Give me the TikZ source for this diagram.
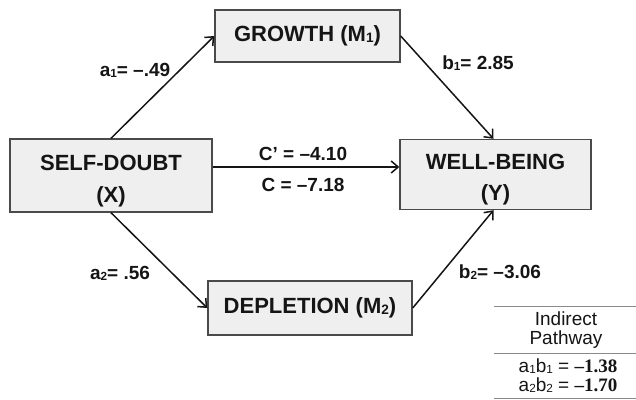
\documentclass[tikz,border=0pt]{standalone}
\usepackage{fontspec}
\setmainfont{Liberation Sans}
\newfontfamily\tnr{Liberation Serif}
\usetikzlibrary{arrows.meta,calc}
\definecolor{boxfill}{HTML}{EFEFEF}
\definecolor{boxline}{HTML}{4A4A4A}
\definecolor{ink}{HTML}{151515}
\definecolor{rule}{HTML}{8A8A8A}
\newcommand\lsub[1]{\raisebox{-0.05em}{\scalebox{0.62}{#1}}}
\tikzset{
  varbox/.style={draw=boxline, line width=1.4pt, fill=boxfill, text=ink,
    font=\fontsize{22}{25}\selectfont\bfseries, align=center, inner sep=0pt},
  arr/.style={draw=ink, line width=1.5pt, -{Straight Barb[length=7pt,width=12pt,line width=1.5pt]}},
  coef/.style={text=ink, font=\fontsize{19}{22}\selectfont\bfseries, inner sep=0pt},
  tabtxt/.style={text=ink, font=\fontsize{19}{22}\selectfont, inner sep=0pt},
  tabrule/.style={draw=rule, line width=0.9pt}
}
\begin{document}
\begin{tikzpicture}[x=1pt,y=-1pt]
\useasboundingbox (0,0) rectangle (636,399);
% boxes
\node[varbox, minimum width=185pt, minimum height=52pt] (gr) at (307.5,36) {GROWTH (M\lsub{1})};
\node[varbox, minimum width=202pt, minimum height=73pt] (sd) at (111,175.5) {\rule{0pt}{26pt}SELF-DOUBT\\[7pt](X)};
\node[varbox, minimum width=191pt, minimum height=70pt] (wb) at (495.5,174.5) {\rule{0pt}{26pt}WELL-BEING\\[6pt](Y)};
\node[varbox, minimum width=204pt, minimum height=54pt] (dp) at (310,308) {DEPLETION (M\lsub{2})};
% connectors
\draw[arr] (sd.north) -- (gr.west);
\draw[arr] (gr.east) -- ([xshift=-2pt]wb.north);
\draw[arr] (sd.south) -- (dp.west);
\draw[arr] (dp.east) -- ([xshift=-2pt]wb.south);
\draw[arr] ([yshift=8.5pt]sd.east) -- ([yshift=7.5pt]wb.west);
% coefficient labels
\node[coef] (la1) at (135,70) {a\lsub{1}= \textendash.49};
\node[coef] (lb1) at (478,63) {b\lsub{1}= 2.85};
\node[coef] (la2) at (120,273) {a\lsub{2}= .56};
\node[coef] (lb2) at (500,272) {b\lsub{2}= \textendash3.06};
\node[coef] (lcp) at (303,154) {C’ = \textendash4.10};
\node[coef] (lc) at (303,185) {C = \textendash7.18};
% table
\coordinate (t1l) at (494,306); \coordinate (t1r) at (636,306);
\coordinate (t2l) at (494,353); \coordinate (t2r) at (636,353);
\coordinate (t3l) at (494,398); \coordinate (t3r) at (636,398);
\draw[tabrule] (t1l) -- (t1r);
\draw[tabrule] (t2l) -- (t2r);
\draw[tabrule] (t3l) -- (t3r);
\node[tabtxt] (tind) at (566,319) {Indirect};
\node[tabtxt] (tpath) at (566,340) {Pathway};
\node[tabtxt] (tab1) at (568,366) {a\lsub{1}b\lsub{1} = {\tnr\bfseries \textendash1.38}};
\node[tabtxt] (tab2) at (568,385) {a\lsub{2}b\lsub{2} = {\tnr\bfseries \textendash1.70}};
\end{tikzpicture}
\end{document}
